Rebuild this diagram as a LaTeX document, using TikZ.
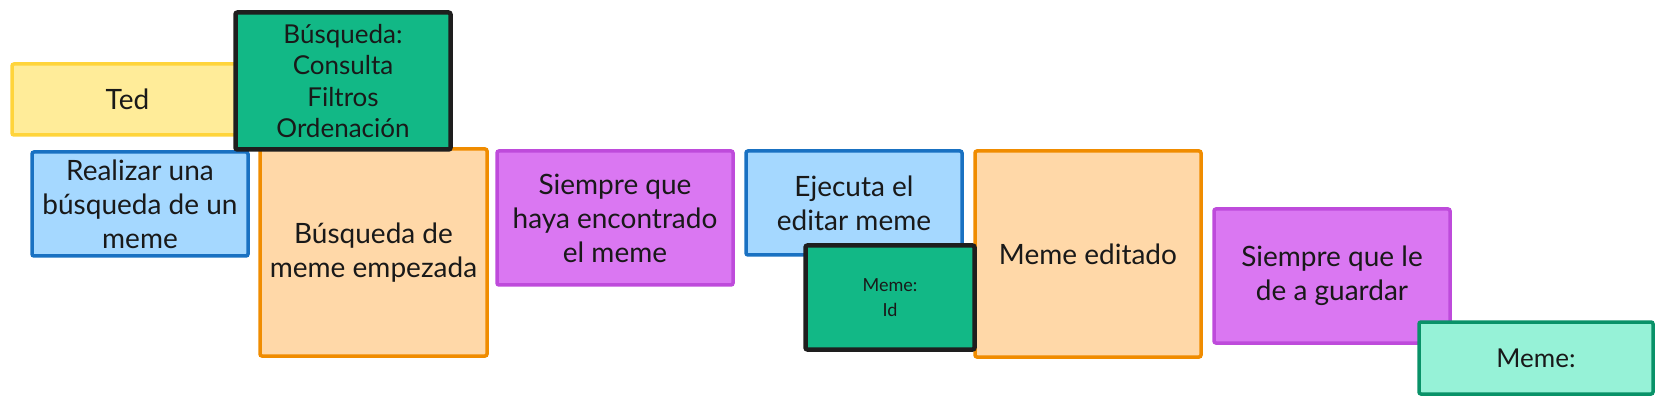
\documentclass[tikz,border=0pt]{standalone}
\usepackage{fontspec}
\setmainfont{Lato}
\usepackage{tikz}
\usetikzlibrary{positioning}
\definecolor{actorfill}{HTML}{FFEC99}
\definecolor{actorline}{HTML}{FFD43B}
\definecolor{cmdfill}{HTML}{A5D8FF}
\definecolor{cmdline}{HTML}{1971C2}
\definecolor{evtfill}{HTML}{FFD8A8}
\definecolor{evtline}{HTML}{F08C00}
\definecolor{polfill}{HTML}{DA77F2}
\definecolor{polline}{HTML}{BE4BDB}
\definecolor{readfill}{HTML}{12B886}
\definecolor{readline}{HTML}{1E1E1E}
\definecolor{aggfill}{HTML}{96F2D7}
\definecolor{aggline}{HTML}{099268}
\tikzset{
  card/.style={rectangle, rounded corners=2pt, line width=3.5pt, align=center,
    inner sep=0pt, text=black!90,
    font=\fontsize{28}{34}\selectfont},
  actor/.style={card, fill=actorfill, draw=actorline},
  cmd/.style={card, fill=cmdfill, draw=cmdline},
  evt/.style={card, fill=evtfill, draw=evtline},
  pol/.style={card, fill=polfill, draw=polline},
  readmodel/.style={card, fill=readfill, draw=readline, line width=4.5pt},
  agg/.style={card, fill=aggfill, draw=aggline},
}

\begin{document}
\begin{tikzpicture}[x=1pt, y=-1pt]
    \useasboundingbox (0,0) rectangle (1666,406);
    % first step: the search
    \node[actor, minimum width=231pt, minimum height=71pt] (ted) at (127.5,99.5) {Ted};
    \node[cmd, minimum width=216pt, minimum height=104pt] (realizar) at (140,204)
      {Realizar una\\búsqueda de un\\meme};
    \node[evt, minimum width=227pt, minimum height=207pt] (empezada) at (373.5,252.5)
      {Búsqueda de\\meme empezada};
    \node[readmodel, minimum width=215pt, minimum height=137pt,
      font=\fontsize{26}{31.5}\selectfont] (busqueda) at (343,81)
      {Búsqueda:\\Consulta\\Filtros\\Ordenación};
    % second step: the edit
    \node[pol, minimum width=236pt, minimum height=134pt] (siempreA) at (615,218)
      {Siempre que\\haya encontrado\\el meme};
    \node[cmd, minimum width=216pt, minimum height=104pt] (ejecuta) at (854,203)
      {Ejecuta el\\editar meme};
    \node[evt, minimum width=226pt, minimum height=206pt] (editado) at (1088,254)
      {Meme editado};
    \node[readmodel, minimum width=169pt, minimum height=104pt,
      font=\fontsize{18}{25}\selectfont] (memeid) at (890,297.5) {Meme:\\Id};
    % third step: saving
    \node[pol, minimum width=236pt, minimum height=134pt] (siempreB) at (1332,276)
      {Siempre que le\\de a guardar};
    \node[agg, minimum width=234pt, minimum height=72pt,
      font=\fontsize{26}{31}\selectfont] (meme) at (1536,358) {Meme:};
\end{tikzpicture}
\end{document}
